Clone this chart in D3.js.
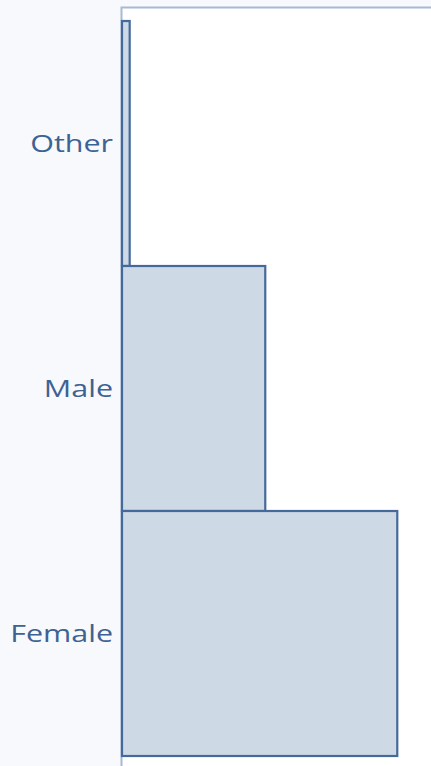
<!DOCTYPE html>
<meta charset="utf-8">
<style>
body { margin: 0; background: #f7f9fc; }
.label { font: 24px "Open Sans", sans-serif; fill: #3d6294; }
.bar { fill: #cdd9e5; stroke: #46699b; stroke-width: 2.2px; }
</style>
<body>
<script src="https://d3js.org/d3.v7.min.js"></script>
<script>

var categories = ["Other", "Male", "Female"];
var counts = [15, 280, 538];
var xMax = 600;

var width = 431, height = 766;
var plot = {left: 122, top: 8, barTop: 21, bottom: 756};

var svg = d3.select("body").append("svg")
    .attr("width", width)
    .attr("height", height);

// white plot area with light frame
svg.append("rect")
    .attr("x", plot.left)
    .attr("y", plot.top)
    .attr("width", width - plot.left)
    .attr("height", height - plot.top)
    .attr("fill", "#fff");

svg.append("path")
    .attr("d", "M" + (plot.left - 0.5) + "," + height + "V" + (plot.top - 0.5) + "H" + width)
    .attr("fill", "none")
    .attr("stroke", "#a8bad2")
    .attr("stroke-width", 2);

var x = d3.scaleLinear()
    .domain([0, xMax])
    .range([plot.left, width - 2]);

var y = d3.scaleBand()
    .domain(categories)
    .range([plot.barTop, plot.bottom])
    .padding(0);

svg.selectAll(".bar")
    .data(categories)
  .enter().append("rect")
    .attr("class", "bar")
    .attr("x", x(0))
    .attr("y", function(d) { return y(d); })
    .attr("width", function(d, i) { return x(counts[i]) - x(0); })
    .attr("height", y.bandwidth());

// labels are drawn a little wider than the font, as in the original
svg.selectAll(".label")
    .data(categories)
  .enter().append("text")
    .attr("class", "label")
    .attr("transform", function(d) {
      return "translate(" + (plot.left - 9) + "," + (y(d) + y.bandwidth() / 2) + ") scale(1.27,1)";
    })
    .attr("dy", "0.35em")
    .attr("text-anchor", "end")
    .text(function(d) { return d; });

</script>
